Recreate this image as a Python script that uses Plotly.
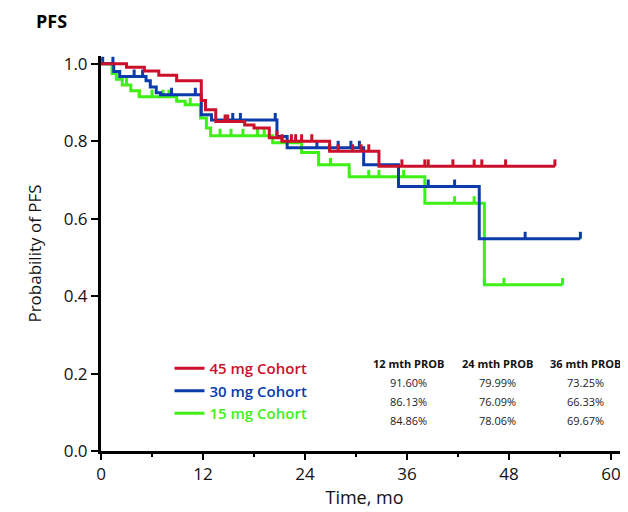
import plotly.graph_objects as go

# ---- data ----
cohorts = ["45 mg Cohort", "30 mg Cohort", "15 mg Cohort"]
colors = ["#cc0f2a", "#0a3caa", "#3ff016"]

red_t = [0, 3.0, 5.1, 6.8, 8.9, 11.8, 12.3, 13.5, 16.9, 18.0, 19.8, 21.3, 26.9, 32.7, 53.4]
red_s = [1.0, 0.991, 0.981, 0.970, 0.956, 0.905, 0.881, 0.851, 0.842, 0.834, 0.809, 0.800, 0.774, 0.735, 0.735]
red_c = [14.6, 14.9, 20.7, 21.3, 22.4, 22.9, 23.6, 24.8, 26.9, 27.9, 29.6, 30.6, 31.5,
         35.4, 38.1, 38.5, 41.4, 43.9, 44.8, 47.6, 53.4]

blue_t = [0, 1.5, 2.2, 5.3, 5.8, 6.5, 7.0, 11.8, 13.0, 20.7, 21.9, 30.9, 35.0, 44.5, 56.4]
blue_s = [1.0, 0.980, 0.967, 0.956, 0.940, 0.925, 0.920, 0.868, 0.855, 0.812, 0.783, 0.739, 0.683, 0.548, 0.548]
blue_c = [0.2, 1.4, 3.9, 4.9, 8.3, 11.1, 15.5, 16.4, 20.5, 25.4, 27.9, 29.4, 30.4,
          38.5, 41.6, 49.9, 56.4]

green_t = [0, 1.3, 1.8, 2.5, 3.5, 4.5, 8.9, 9.9, 11.7, 12.4, 12.9, 20.2, 23.6, 25.6, 29.2, 38.1, 45.1, 54.3]
green_s = [1.0, 0.975, 0.960, 0.945, 0.930, 0.915, 0.903, 0.894, 0.860, 0.834, 0.814, 0.796, 0.771, 0.739,
           0.708, 0.640, 0.429, 0.429]
green_c = [3.0, 4.5, 6.0, 7.3, 8.0, 10.5, 14.0, 15.3, 16.7, 18.4, 19.2, 27.0, 31.5, 32.7,
           35.6, 41.6, 43.9, 45.1, 47.4, 54.3]

table_headers = ["12 mth PROB", "24 mth PROB", "36 mth PROB"]
table_months = [36.2, 46.6, 57.0]  # column centres on the time axis
table_rows = [
    ["91.60%", "79.99%", "73.25%"],
    ["86.13%", "76.09%", "66.33%"],
    ["84.86%", "78.06%", "69.67%"],
]

x_ticks = [0, 12, 24, 36, 48, 60]
y_ticks = [0.0, 0.2, 0.4, 0.6, 0.8, 1.0]

TICK_H = 0.018


def surv_at(ts, ss, t):
    v = ss[0]
    for ti, si in zip(ts, ss):
        if ti <= t:
            v = si
    return v


series = [
    (cohorts[0], colors[0], red_t, red_s, red_c),
    (cohorts[1], colors[1], blue_t, blue_s, blue_c),
    (cohorts[2], colors[2], green_t, green_s, green_c),
]

fig = go.Figure()
# draw green first, red last (red on top)
for rank, (name, col, ts, ss, cs) in reversed(list(enumerate(series))):
    fig.add_trace(go.Scatter(
        x=ts, y=ss, mode="lines", line=dict(color=col, width=3, shape="hv"),
        name="<span style='color:%s'>%s</span>" % (col, name),
        legendrank=rank + 1, showlegend=True, hoverinfo="skip"))
    cx, cy = [], []
    for c in cs:
        s = surv_at(ts, ss, c)
        cx += [c, c, None]
        cy += [s, s + TICK_H, None]
    fig.add_trace(go.Scatter(
        x=cx, y=cy, mode="lines", line=dict(color=col, width=3),
        showlegend=False, hoverinfo="skip"))

ann = []
hdr_y = 0.227
row_y = [0.176, 0.127, 0.078]
for j, h in enumerate(table_headers):
    ann.append(dict(x=table_months[j], y=hdr_y, xref="x", yref="y", text="<b>" + h + "</b>",
                    showarrow=False, font=dict(size=11, color="#111111", family="Open Sans")))
    for i, row in enumerate(table_rows):
        ann.append(dict(x=table_months[j], y=row_y[i], xref="x", yref="y", text=row[j],
                        showarrow=False, font=dict(size=11, color="#222222", family="Open Sans")))

ann.append(dict(xref="paper", yref="paper", x=-0.128, y=1.088, xanchor="left", yanchor="middle",
                text="<b>PFS</b>", showarrow=False,
                font=dict(size=18, color="#000000", family="Open Sans")))
fig.layout.annotations = ann

# page has an 8px body margin, so the figure is 620x504 and sits at (8, 8)
fig.update_layout(
    width=620, height=504,
    margin=dict(l=93, r=0, t=48, b=61, autoexpand=False),
    paper_bgcolor="white", plot_bgcolor="white",
    font=dict(family="Open Sans", color="#111111"),
    legend=dict(x=0.13, y=0.2506, xanchor="left", yanchor="top",
                font=dict(size=15, family="Open Sans", weight=600),
                bgcolor="rgba(0,0,0,0)", tracegroupgap=0, itemwidth=30),
    xaxis=dict(range=[0, 62], tickvals=x_ticks, ticks="outside", ticklen=6, tickwidth=2,
               tickcolor="black", showline=True, linecolor="black", linewidth=3,
               showgrid=False, zeroline=False, automargin=False, ticklabeloverflow="allow",
               minor=dict(dtick=6, tick0=0, ticks="outside", ticklen=3, tickwidth=2, tickcolor="black"),
               tickfont=dict(size=17, family="Open Sans", color="#111111"),
               title=dict(text="Time, mo", font=dict(size=18, family="Open Sans", color="#111111"),
                          standoff=4)),
    yaxis=dict(range=[0, 1.02], tickvals=y_ticks, tickformat=".1f", ticks="outside", ticklen=7,
               tickwidth=2, tickcolor="black", showline=True, linecolor="black", linewidth=3,
               showgrid=False, zeroline=False, automargin=False,
               tickfont=dict(size=17, family="Open Sans", color="#111111"),
               title=dict(text="Probability of PFS", font=dict(size=17, family="Open Sans", color="#111111"),
                          standoff=18)),
)

fig.write_html("out.html")
